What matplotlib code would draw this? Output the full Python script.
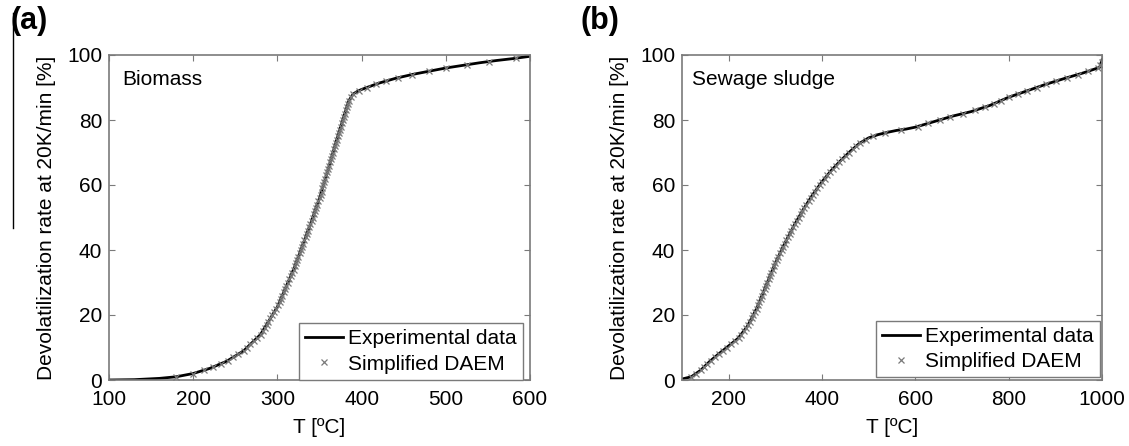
import matplotlib
matplotlib.use('Agg')
import matplotlib.pyplot as plt
from matplotlib.lines import Line2D

plt.rcParams['font.family'] = ['Liberation Sans', 'DejaVu Sans']
plt.rcParams['font.size'] = 15

# (a) Biomass - experimental curve
bio_exp_t = [100, 130, 160, 180, 200, 220, 240, 260, 280, 300, 320, 340, 350,
             360, 370, 380, 385, 390, 395, 400, 420, 440, 460, 480, 500, 520,
             540, 560, 580, 600]
bio_exp_v = [0.0, 0.1, 0.5, 1.0, 2.0, 3.6, 5.8, 9.0, 14.0, 22.5, 34.5, 48.5,
             56.0, 64.5, 73.5, 82.0, 86.0, 88.0, 88.8, 89.4, 91.3, 92.8, 94.0,
             95.0, 96.0, 96.8, 97.6, 98.3, 98.9, 99.6]

# (a) Biomass - simplified DAEM points (1 % conversion steps)
bio_daem_v = [1, 2, 3, 4, 5, 6, 7, 8, 9, 10, 11, 12, 13, 14, 15, 16, 17, 18,
              19, 20, 21, 22, 23, 24, 25, 26, 27, 28, 29, 30, 31, 32, 33, 34,
              35, 36, 37, 38, 39, 40, 41, 42, 43, 44, 45, 46, 47, 48, 49, 50,
              51, 52, 53, 54, 55, 56, 57, 58, 59, 60, 61, 62, 63, 64, 65, 66,
              67, 68, 69, 70, 71, 72, 73, 74, 75, 76, 77, 78, 79, 80, 81, 82,
              83, 84, 85, 86, 87, 88, 89, 90, 91, 92, 93, 94, 95, 96, 97, 98,
              99]
bio_daem_t = [180, 200, 212.5, 223.6, 232.7, 241.3, 247.5, 253.8, 260, 264,
              268, 272, 276, 280, 282.4, 284.7, 287.1, 289.4, 291.8, 294.1,
              296.5, 298.8, 300.8, 302.5, 304.2, 305.8, 307.5, 309.2, 310.8,
              312.5, 314.2, 315.8, 317.5, 319.2, 320.7, 322.1, 323.6, 325,
              326.4, 327.9, 329.3, 330.7, 332.1, 333.6, 335, 336.4, 337.9,
              339.3, 340.7, 342, 343.3, 344.7, 346, 347.3, 348.7, 350, 351.2,
              352.4, 353.5, 354.7, 355.9, 357.1, 358.2, 359.4, 360.6, 361.7,
              362.8, 363.9, 365, 366.1, 367.2, 368.3, 369.4, 370.6, 371.8,
              372.9, 374.1, 375.3, 376.5, 377.6, 378.8, 380, 381.3, 382.5,
              383.8, 385, 387.5, 390, 396.7, 406.3, 416.8, 429.3, 443.3, 460,
              480, 500, 525, 551.4, 583.3]

# (b) Sewage sludge - experimental curve
sew_exp_t = [100, 120, 140, 160, 180, 200, 220, 240, 260, 280, 300, 320, 340,
             360, 380, 400, 420, 440, 460, 480, 500, 520, 540, 560, 580, 600,
             640, 680, 720, 760, 800, 840, 880, 920, 960, 995, 1000]
sew_exp_v = [0.3, 1.0, 3.0, 5.8, 8.2, 10.5, 12.8, 16.5, 22.0, 29.0, 36.0, 42.0,
             47.5, 52.5, 57.0, 61.0, 64.5, 67.5, 70.3, 72.8, 74.5, 75.5, 76.2,
             76.8, 77.2, 77.8, 79.5, 81.2, 82.6, 84.5, 87.0, 89.0, 91.0, 92.8,
             94.5, 96.2, 98.5]

# (b) Sewage sludge - simplified DAEM points
sew_daem_v = [1, 2, 3, 4, 5, 6, 7, 8, 9, 10, 11, 12, 13, 14, 15, 16, 17, 18,
              19, 20, 21, 22, 23, 24, 25, 26, 27, 28, 29, 30, 31, 32, 33, 34,
              35, 36, 37, 38, 39, 40, 41, 42, 43, 44, 45, 46, 47, 48, 49, 50,
              51, 52, 53, 54, 55, 56, 57, 58, 59, 60, 61, 62, 63, 64, 65, 66,
              67, 68, 69, 70, 71, 72, 73, 74, 75, 76, 77, 78, 79, 80, 81, 82,
              83, 84, 85, 86, 87, 88, 89, 90, 91, 92, 93, 94, 95, 96, 97, 98]
sew_daem_t = [120, 130, 140, 147.1, 154.3, 161.7, 170, 178.3, 187, 195.7,
              204.3, 213, 221.1, 226.5, 231.9, 237.3, 241.8, 245.5, 249.1,
              252.7, 256.4, 260, 262.9, 265.7, 268.6, 271.4, 274.3, 277.1,
              280, 282.9, 285.7, 288.6, 291.4, 294.3, 297.1, 300, 303.3,
              306.7, 310, 313.3, 316.7, 320, 323.6, 327.3, 330.9, 334.5,
              338.2, 342, 346, 350, 354, 358, 362.2, 366.7, 371.1, 375.6, 380,
              385, 390, 395, 400, 405.7, 411.4, 417.1, 423.3, 430, 436.7,
              443.6, 450.7, 457.9, 465.6, 473.6, 482.4, 494.1, 510, 534.3,
              570, 604.7, 628.2, 651.8, 675.3, 702.9, 728.4, 749.5, 768, 784,
              800, 820, 840, 860, 880, 902.2, 924.7, 948.2, 970.3, 990.9,
              996.7, 999.6]

axis_gray = '#7a7a7a'
marker_gray = '#7a7a7a'

W, H = 1129, 446
fig = plt.figure(figsize=(W / 100, H / 100), dpi=100)


def px_axes(left, top, right, bottom):
    return fig.add_axes([left / W, 1 - bottom / H, (right - left) / W,
                         (bottom - top) / H])


panels = [
    dict(box=(109, 55, 530, 380), exp=(bio_exp_t, bio_exp_v),
         daem=(bio_daem_t, bio_daem_v), xlim=(100, 600),
         xticks=[100, 200, 300, 400, 500, 600], name='Biomass',
         name_x=0.031, tag='(a)', tag_x=11, leg_x=0.983, leg_y=0.0),
    dict(box=(682, 55, 1102, 380), exp=(sew_exp_t, sew_exp_v),
         daem=(sew_daem_t, sew_daem_v), xlim=(100, 1000),
         xticks=[200, 400, 600, 800, 1000], name='Sewage sludge',
         name_x=0.024, tag='(b)', tag_x=581, leg_x=0.995, leg_y=0.008),
]

for p in panels:
    ax = px_axes(*p['box'])
    ax.plot(p['exp'][0], p['exp'][1], color='black', lw=2.0,
            label='Experimental data', zorder=2)
    ax.plot(p['daem'][0], p['daem'][1], ls='none', marker='x',
            color=marker_gray, ms=5, mew=0.9, label='Simplified DAEM',
            zorder=3)
    ax.set_xlim(*p['xlim'])
    ax.set_ylim(0, 100)
    ax.set_xticks(p['xticks'])
    ax.set_yticks([0, 20, 40, 60, 80, 100])
    ax.tick_params(direction='in', length=4, width=0.8, color=axis_gray,
                   top=True, right=True, labelsize=15, pad=5)
    ax.tick_params(axis='x', pad=7)
    for s in ax.spines.values():
        s.set_color(axis_gray)
        s.set_linewidth(1.2)
    ax.set_xlabel('T [ºC]', fontsize=15, labelpad=7)
    ax.set_ylabel('Devolatilization rate at 20K/min [%]', fontsize=15,
                  labelpad=8)
    ax.text(p['name_x'], 0.955, p['name'], transform=ax.transAxes,
            ha='left', va='top', fontsize=15)
    leg = ax.legend(loc='lower right', bbox_to_anchor=(p['leg_x'], p['leg_y']),
                    borderaxespad=0, fancybox=False, framealpha=1,
                    edgecolor=axis_gray, handlelength=1.8,
                    handletextpad=0.25, numpoints=1, fontsize=15,
                    borderpad=0.3, labelspacing=0.3)
    leg.get_frame().set_linewidth(1.0)
    fig.text(p['tag_x'] / W, 1 - 6 / H, p['tag'], fontsize=22,
             fontweight='bold', ha='left', va='top')

# vertical rule at the left edge of the page
fig.add_artist(Line2D([12.5 / W, 12.5 / W], [1 - 13 / H, 1 - 228 / H],
                      color='black', lw=1.0))

fig.savefig('out.png', dpi=100)
